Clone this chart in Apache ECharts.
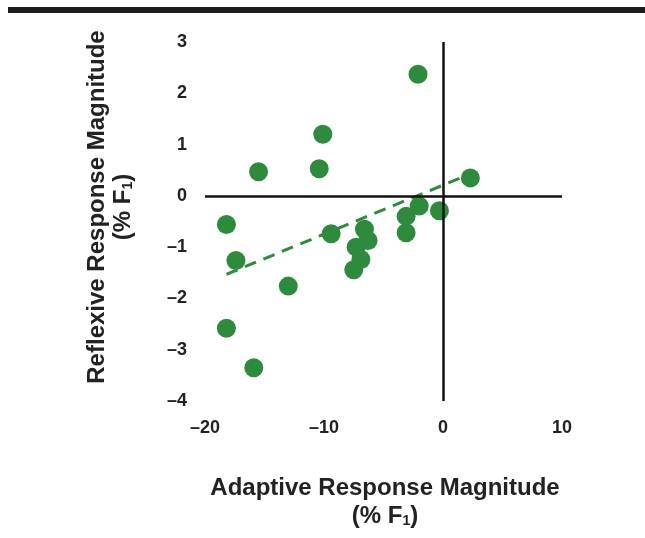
<!DOCTYPE html>
<html>
<head>
<meta charset="utf-8">
<script src="https://cdn.jsdelivr.net/npm/echarts@6/dist/echarts.min.js"></script>
<style>
html,body{margin:0;padding:0;background:#fff;}
#chart{width:645px;height:538px;}
</style>
</head>
<body>
<div id="chart"></div>
<script>
// adaptive (x) vs reflexive (y), % F1
var adaptive = [-2.1, -10.1, -10.4, -15.5, 2.3, -18.2, -2.0, -0.3, -3.1, -3.1, -9.4, -6.6, -6.3, -7.3, -6.9, -7.5, -17.4, -13.0, -18.2, -15.9];
var reflexive = [2.37, 1.2, 0.53, 0.47, 0.35, -0.56, -0.2, -0.29, -0.4, -0.72, -0.74, -0.65, -0.87, -1.0, -1.24, -1.44, -1.26, -1.76, -2.58, -3.35];
var trendX = [-18.2, 2.0];
var trendY = [-1.53, 0.4];
var xTicks = [-20, -10, 0, 10];
var yTicks = [-4, -3, -2, -1, 0, 1, 2, 3];

var green = '#2e8b3d';
var ink = '#222';

var pts = adaptive.map(function(x, i){ return [x, reflexive[i]]; });
var trend = trendX.map(function(x, i){ return [x, trendY[i]]; });

var myChart = echarts.init(document.getElementById('chart'));
myChart.setOption({
    animation: false,
    backgroundColor: '#fff',
    grid: {left: 205, right: 83, top: 42, bottom: 137},
    xAxis: {
        type: 'value',
        min: xTicks[0], max: xTicks[xTicks.length - 1], interval: 10,
        axisLine: {show: false},
        axisTick: {show: false},
        splitLine: {show: false},
        axisLabel: {
            margin: 18,
            color: ink, fontFamily: 'Liberation Sans', fontWeight: 'bold', fontSize: 18,
            formatter: function(v){ return v < 0 ? '\u2013' + Math.abs(v) : String(v); }
        }
    },
    yAxis: {
        type: 'value',
        min: yTicks[0], max: yTicks[yTicks.length - 1], interval: 1,
        axisLine: {show: false},
        axisTick: {show: false},
        splitLine: {show: false},
        axisLabel: {
            margin: 18,
            color: ink, fontFamily: 'Liberation Sans', fontWeight: 'bold', fontSize: 18,
            formatter: function(v){ return v < 0 ? '\u2013' + Math.abs(v) : String(v); }
        }
    },
    graphic: [
        {type: 'rect', shape: {x: 8, y: 7, width: 637, height: 6}, style: {fill: '#1c1c1c'}},
        {
            type: 'text', x: 385, y: 488,
            style: {
                text: 'Adaptive Response Magnitude',
                fill: ink, font: 'bold 24px "Liberation Sans"',
                textAlign: 'center', textVerticalAlign: 'middle'
            }
        },
        {
            type: 'text', x: 385, y: 516,
            style: {
                text: '{a|(% F}{s|1}{a|)}',
                textAlign: 'center', textVerticalAlign: 'middle',
                rich: {
                    a: {fill: ink, font: 'bold 24px "Liberation Sans"'},
                    s: {fill: ink, font: 'bold 14px "Liberation Sans"', padding: [10, 0, 0, 0]}
                }
            }
        },
        {
            type: 'text', x: 97, y: 207, rotation: Math.PI / 2,
            style: {
                text: 'Reflexive Response Magnitude',
                fill: ink, font: 'bold 24px "Liberation Sans"',
                textAlign: 'center', textVerticalAlign: 'middle'
            }
        },
        {
            type: 'text', x: 123, y: 207, rotation: Math.PI / 2,
            style: {
                text: '{a|(% F}{s|1}{a|)}',
                textAlign: 'center', textVerticalAlign: 'middle',
                rich: {
                    a: {fill: ink, font: 'bold 24px "Liberation Sans"'},
                    s: {fill: ink, font: 'bold 14px "Liberation Sans"', padding: [10, 0, 0, 0]}
                }
            }
        }
    ],
    series: [
        {
            type: 'line',
            data: trend,
            symbol: 'none',
            lineStyle: {color: green, width: 3, type: [12, 8]},
            z: 2,
            markLine: {
                silent: true,
                symbol: 'none',
                label: {show: false},
                lineStyle: {color: '#111', width: 2.5, type: 'solid'},
                data: [{xAxis: 0}, {yAxis: 0}]
            }
        },
        {
            type: 'scatter',
            data: pts,
            symbolSize: 19,
            itemStyle: {color: green, opacity: 1},
            z: 3
        }
    ]
});
</script>
</body>
</html>
